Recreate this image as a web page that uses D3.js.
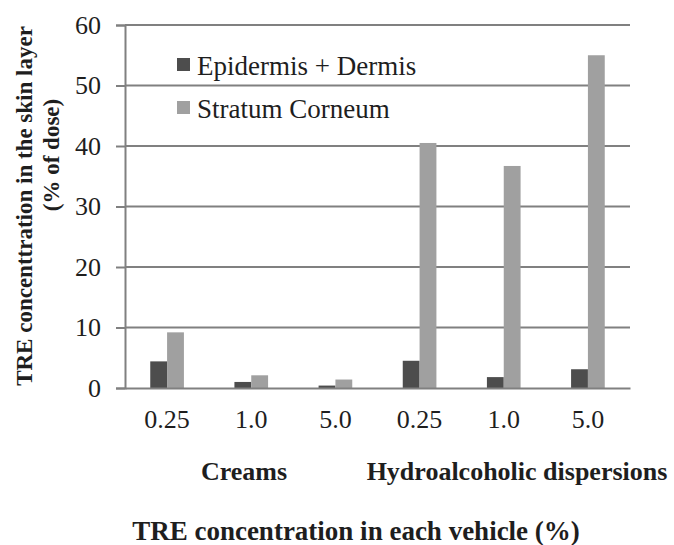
<!DOCTYPE html>
<html><head><meta charset="utf-8">
<script src="https://cdn.jsdelivr.net/npm/d3@7"></script>
<style>body{margin:0;background:#fff}svg{display:block}text{font-family:"Liberation Serif","Times New Roman",serif}</style>
</head><body>
<script>
const categories = ["0.25","1.0","5.0","0.25 ","1.0 ","5.0 "];
const tickLabels = ["0.25","1.0","5.0","0.25","1.0","5.0"];
const seriesNames = ["Epidermis + Dermis","Stratum Corneum"];
const epidermisDermis = [4.4, 1.0, 0.4, 4.5, 1.8, 3.1];
const stratumCorneum = [9.2, 2.1, 1.4, 40.5, 36.7, 55.0];
const groupLabels = ["Creams","Hydroalcoholic dispersions"];
const yTicks = [0,10,20,30,40,50,60];
const yTitleLines = ["TRE concenttration in the skin layer","(% of dose)"];
const xTitle = "TRE concentration in each vehicle (%)";

(function(){
const W=674,H=545;
const svg=d3.select("body").append("svg").attr("width",W).attr("height",H);
const pL=125,pR=630,pT=25,pB=388;
const x=d3.scaleBand().domain(categories).range([pL,pR]);
const y=d3.scaleLinear().domain([0,60]).range([pB,pT]);
const colors=["#4d4d4d","#a0a0a0"];
const grid="#808080";
const ink="#1e1e1e";

svg.append("g").selectAll("line").data(yTicks.slice(1)).join("line")
 .attr("x1",pL).attr("x2",pR).attr("y1",d=>y(d)).attr("y2",d=>y(d))
 .attr("stroke",grid).attr("stroke-width",2);

const bw=x.bandwidth()*0.2;
const series=[epidermisDermis,stratumCorneum];
series.forEach((vals,si)=>{
  svg.append("g").selectAll("rect").data(vals).join("rect")
   .attr("x",(d,i)=>x(categories[i])+x.bandwidth()/2-bw+si*bw)
   .attr("width",bw)
   .attr("y",d=>y(d)).attr("height",d=>y(0)-y(d))
   .attr("fill",colors[si]);
});

const yAxis=d3.axisLeft(y).tickValues(yTicks).tickSize(9).tickPadding(15).tickFormat(d3.format("d"));
const ya=svg.append("g").attr("transform",`translate(${pL},0)`).call(yAxis);
ya.select(".domain").attr("stroke",grid).attr("stroke-width",2);
ya.selectAll(".tick line").attr("stroke",grid).attr("stroke-width",2);
ya.selectAll(".tick text").attr("font-size",26).attr("fill",ink).style("font-family","Liberation Serif");

const xAxis=d3.axisBottom(x).tickSize(0).tickPadding(22).tickFormat((d,i)=>tickLabels[i]);
const xa=svg.append("g").attr("transform",`translate(0,${pB})`).call(xAxis);
xa.select(".domain").attr("stroke",grid).attr("stroke-width",2);
xa.selectAll(".tick text").attr("font-size",26).attr("fill",ink).style("font-family","Liberation Serif");

svg.append("text").attr("x",244).attr("y",480).attr("text-anchor","middle")
 .attr("font-size",26).attr("font-weight","bold").attr("fill",ink).text(groupLabels[0]);
svg.append("text").attr("x",517).attr("y",480).attr("text-anchor","middle")
 .attr("font-size",26).attr("font-weight","bold").attr("fill",ink).text(groupLabels[1]);

svg.append("text").attr("x",356).attr("y",540).attr("text-anchor","middle")
 .attr("font-size",27).attr("font-weight","bold").attr("fill",ink).text(xTitle);

svg.append("text").attr("transform","translate(32,206) rotate(-90)").attr("text-anchor","middle")
 .attr("font-size",23).attr("font-weight","bold").attr("fill",ink).text(yTitleLines[0]);
svg.append("text").attr("transform","translate(59,155) rotate(-90)").attr("text-anchor","middle")
 .attr("font-size",23).attr("font-weight","bold").attr("fill",ink).text(yTitleLines[1]);

const lg=svg.append("g");
seriesNames.forEach((n,i)=>{
  const yy=[75,118][i];
  lg.append("rect").attr("x",177).attr("y",yy-17).attr("width",13).attr("height",13).attr("fill",colors[i]);
  lg.append("text").attr("x",197).attr("y",yy).attr("font-size",27).attr("fill",ink).text(n);
});
})();
</script>
</body></html>
